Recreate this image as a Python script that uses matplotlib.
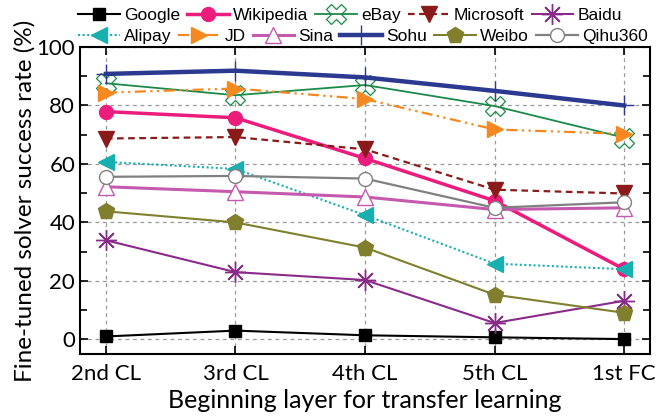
import matplotlib
matplotlib.use("Agg")
import matplotlib.pyplot as plt
from matplotlib.ticker import MultipleLocator

categories = ["2nd CL", "3rd CL", "4th CL", "5th CL", "1st FC"]
google    = [1.0, 3.0, 1.4, 0.7, 0.1]
wikipedia = [77.9, 75.8, 61.9, 47.4, 24.0]
ebay      = [87.6, 83.5, 87.0, 79.8, 69.0]
microsoft = [68.7, 69.2, 65.0, 51.2, 49.9]
baidu     = [33.9, 23.0, 20.3, 5.6, 13.2]
alipay    = [60.7, 58.3, 42.5, 25.9, 24.0]
jd        = [84.4, 85.8, 82.2, 71.8, 70.3]
sina      = [52.2, 50.5, 48.7, 44.4, 45.0]
sohu      = [90.8, 91.9, 89.6, 85.0, 80.0]
weibo     = [43.8, 40.0, 31.4, 15.3, 9.1]
qihu360   = [55.6, 55.9, 55.0, 45.0, 46.9]

series = [
    ("Google", google, dict(color="black", ls="-", lw=1.5, marker="s", ms=8, mfc="black", mec="black")),
    ("Wikipedia", wikipedia, dict(color="#EC1C7D", ls="-", lw=2.5, marker="o", ms=10, mfc="#EC1C7D", mec="#EC1C7D")),
    ("eBay", ebay, dict(color="#1B8A48", ls="-", lw=1.3, marker="X", ms=15, mfc="none", mec="#1B8A48", mew=0.9)),
    ("Microsoft", microsoft, dict(color="#8B1A1A", ls=(0, (3, 2)), lw=1.6, marker="v", ms=11, mfc="#8B1A1A", mec="#8B1A1A")),
    ("Baidu", baidu, dict(color="#8A2A8A", ls="-", lw=1.5, marker=(8, 2, 0), ms=15, mfc="none", mec="#8A2A8A", mew=1.0)),
    ("Alipay", alipay, dict(color="#17AFAF", ls=(0, (1, 1.2)), lw=1.5, marker="<", ms=11, mfc="#17AFAF", mec="#17AFAF")),
    ("JD", jd, dict(color="#F5891F", ls=(0, (5, 2, 1, 2, 1, 2)), lw=1.6, marker=">", ms=11, mfc="#F5891F", mec="#F5891F")),
    ("Sina", sina, dict(color="#C459AE", ls="-", lw=2.2, marker="^", ms=11, mfc="white", mec="#C459AE", mew=1.0)),
    ("Sohu", sohu, dict(color="#2B3990", ls="-", lw=3.2, marker="+", ms=14, mfc="none", mec="#2B3990", mew=1.0)),
    ("Weibo", weibo, dict(color="#7F7F2E", ls="-", lw=1.5, marker="p", ms=12, mfc="#7F7F2E", mec="#7F7F2E")),
    ("Qihu360", qihu360, dict(color="#808080", ls="-", lw=1.6, marker="o", ms=10, mfc="white", mec="#808080", mew=1.0)),
]

fig = plt.figure(figsize=(6.57, 4.17), dpi=100)
ax = fig.add_axes([80/657, 1-354/417, (650-80)/657, (354-47)/417])

x = list(range(len(categories)))
handles = []
for name, vals, st in series:
    h, = ax.plot(x, vals, label=name, **st)
    handles.append(h)

ax.set_xlim(-0.2, 4.2)
ax.set_ylim(-5, 100)
ax.set_xticks(x)
ax.set_xticklabels(categories)
ax.set_yticks([0, 20, 40, 60, 80, 100])
ax.yaxis.set_minor_locator(MultipleLocator(10))
ax.grid(True, which="major", ls=(0, (3, 3)), color="#999999", lw=0.9)
ax.tick_params(axis="both", which="both", direction="in", top=True, right=True, labelsize=16)
ax.tick_params(axis="x", which="major", pad=7)
ax.tick_params(axis="both", which="major", length=6, width=1.2)
ax.tick_params(axis="y", which="minor", length=5, width=1.2)
ax.tick_params(axis="x", which="minor", bottom=False, top=False)
for lab in ax.get_xticklabels() + ax.get_yticklabels():
    lab.set_fontfamily("Lato")
for sp in ax.spines.values():
    sp.set_linewidth(1.5)

ax.set_xlabel("Beginning layer for transfer learning", fontsize=18, family="Lato", labelpad=4)
ax.set_ylabel("Fine-tuned solver success rate (%)", fontsize=17.5, family="Lato", labelpad=1)

leg_kw = dict(frameon=False, handlelength=2.4, handletextpad=0.25, columnspacing=0.4,
              borderpad=0, borderaxespad=0, prop={"family": "Liberation Sans", "size": 12.5},
              loc="center left")
leg1 = fig.legend(handles[:5], [s[0] for s in series[:5]], ncol=5,
                  bbox_to_anchor=(78/657, 1-15/417), **leg_kw)
leg2 = fig.legend(handles[5:], [s[0] for s in series[5:]], ncol=6,
                  bbox_to_anchor=(78/657, 1-36/417), **leg_kw)

fig.savefig("out.png", dpi=100)
